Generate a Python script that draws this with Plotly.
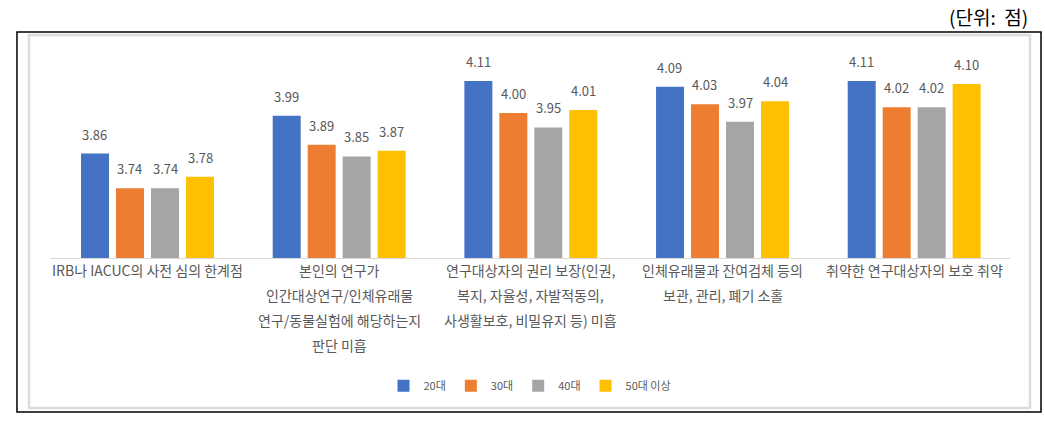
import plotly.graph_objects as go

# categories (x axis, one list of lines per label) and series values
category_lines = [
    ["IRB나 IACUC의 사전 심의 한계점"],
    ["본인의 연구가", "인간대상연구/인체유래물", "연구/동물실험에 해당하는지", "판단 미흡"],
    ["연구대상자의 권리 보장(인권,", "복지, 자율성, 자발적동의,", "사생활보호, 비밀유지 등) 미흡"],
    ["인체유래물과 잔여검체 등의", "보관, 관리, 폐기 소홀"],
    ["취약한 연구대상자의 보호 취약"],
]
categories = [" ".join(lines) for lines in category_lines]
series_names = ["20대", "30대", "40대", "50대 이상"]
age20 = [3.86, 3.99, 4.11, 4.09, 4.11]
age30 = [3.74, 3.89, 4.00, 4.03, 4.02]
age40 = [3.74, 3.85, 3.95, 3.97, 4.02]
age50 = [3.78, 3.87, 4.01, 4.04, 4.10]
colors = ["#4472C4", "#ED7D31", "#A5A5A5", "#FFC000"]

FONT = "Noto Sans CJK KR"
W, H = 1045, 421
ML, MR, MT, MB = 50, 35, 52, 163
BARGAP, GROUPGAP = 0.27, 0.2

fig = go.Figure()
all_series = [age20, age30, age40, age50]
for name, vals, col in zip(series_names, all_series, colors):
    fig.add_trace(go.Bar(
        x=categories, y=vals, name=name,
        marker=dict(color=col, line=dict(width=0)),
    ))

# value labels above each bar (offset to the bar's slot within the group)
cat_px = (W - ML - MR) / len(categories)
slot = cat_px * (1 - BARGAP) / len(all_series)
for i, vals in enumerate(all_series):
    dx = (i - (len(all_series) - 1) / 2) * slot
    for c, v in zip(categories, vals):
        fig.add_annotation(x=c, y=v, text=f"{v:.2f}", showarrow=False,
                           xshift=dx, yshift=8, yanchor="bottom",
                           font=dict(family=FONT, size=13, color="#595959"))

# category labels, wrapped like the original with wider line spacing
for c, lines in zip(categories, category_lines):
    for j, line in enumerate(lines):
        fig.add_annotation(x=c, y=0, yref="paper", text=line, showarrow=False,
                           yanchor="middle", yshift=-12 - 25 * j,
                           font=dict(family=FONT, size=14, color="#595959"))

fig.update_layout(
    width=W, height=H,
    margin=dict(l=ML, r=MR, t=MT, b=MB),
    paper_bgcolor="white", plot_bgcolor="white",
    barmode="group", bargap=BARGAP, bargroupgap=GROUPGAP,
    font=dict(family=FONT, color="#595959"),
    showlegend=True,
    legend=dict(orientation="h", x=0.5, xanchor="center", y=-0.62, yanchor="middle",
                font=dict(family=FONT, size=11, color="#595959"),
                itemwidth=30, traceorder="normal"),
    xaxis=dict(showline=True, linecolor="#D9D9D9", linewidth=1, showgrid=False,
               ticks="", showticklabels=False),
    yaxis=dict(range=[3.5, 4.21], visible=False, showgrid=False),
)

# outer black frame and inner light chart border
fig.add_shape(type="rect", xref="paper", yref="paper",
              x0=-0.0344, x1=1.0323, y0=-0.7476, y1=1.097,
              line=dict(color="black", width=1.5), layer="below")
fig.add_shape(type="rect", xref="paper", yref="paper",
              x0=-0.0219, x1=1.0208, y0=-0.728, y1=1.0825,
              line=dict(color="#DCDCDC", width=2.5), layer="below")

fig.add_annotation(text="(단위:  점)", xref="paper", yref="paper",
                   x=1.0208, y=1.17, xanchor="right", yanchor="middle",
                   showarrow=False, font=dict(family=FONT, size=19, color="black"))

fig.write_html("out.html", config={"displayModeBar": False},
               post_script="document.body.style.margin='0';")
